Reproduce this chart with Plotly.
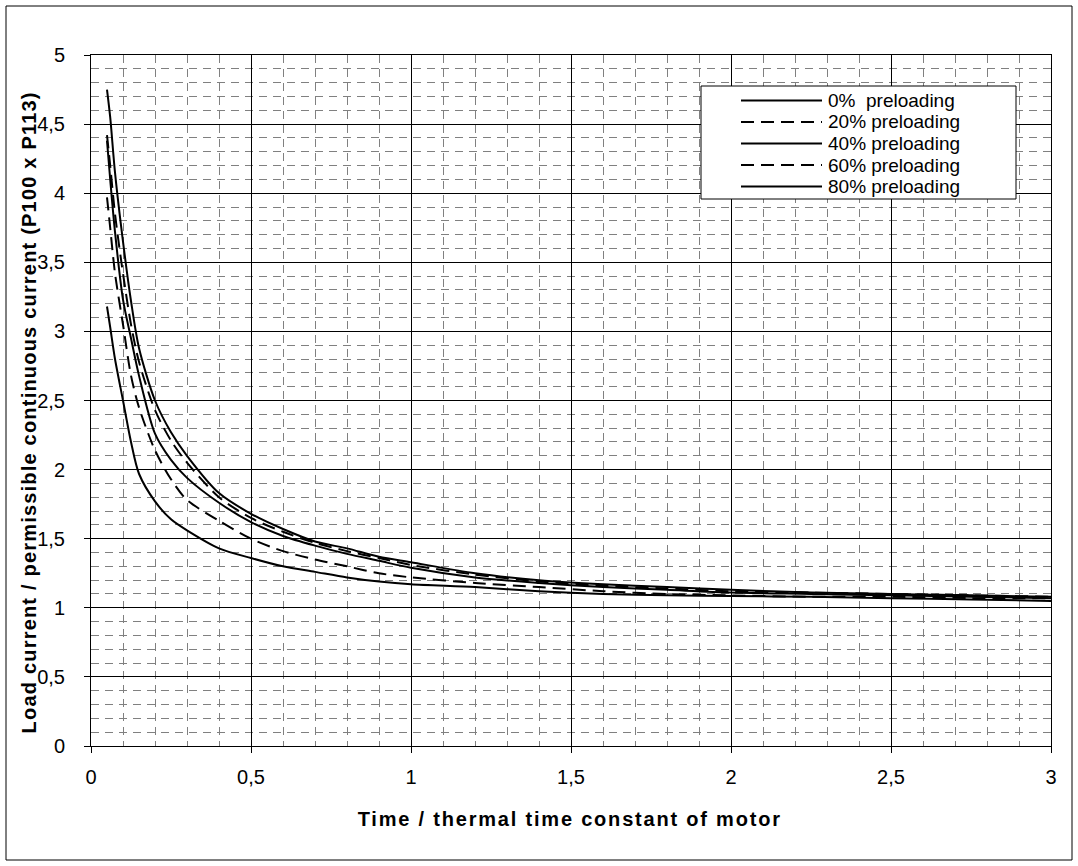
import plotly.graph_objects as go

# ---------------- data ----------------
time_ratio = [0.05, 0.06, 0.075, 0.1, 0.125, 0.15, 0.2, 0.25, 0.3, 0.4, 0.5, 0.6, 0.7,
              0.8, 0.9, 1.0, 1.2, 1.4, 1.6, 1.8, 2.0, 2.25, 2.5, 2.75, 3.0]

pre_0 = [4.75, 4.55, 4.15, 3.65, 3.22, 2.88, 2.50, 2.27, 2.10, 1.83, 1.68, 1.57, 1.48,
         1.43, 1.37, 1.33, 1.25, 1.20, 1.17, 1.15, 1.13, 1.11, 1.10, 1.09, 1.08]
pre_20 = [4.42, 4.20, 3.85, 3.42, 3.05, 2.78, 2.43, 2.21, 2.05, 1.80, 1.65, 1.55, 1.47,
          1.41, 1.36, 1.31, 1.24, 1.19, 1.16, 1.14, 1.12, 1.11, 1.10, 1.09, 1.08]
pre_40 = [4.38, 4.10, 3.72, 3.23, 2.95, 2.68, 2.26, 2.07, 1.94, 1.76, 1.62, 1.52, 1.45,
          1.39, 1.34, 1.29, 1.22, 1.18, 1.15, 1.13, 1.11, 1.10, 1.09, 1.08, 1.07]
pre_60 = [3.97, 3.75, 3.42, 3.05, 2.68, 2.45, 2.14, 1.93, 1.78, 1.63, 1.50, 1.41, 1.35,
          1.30, 1.25, 1.22, 1.18, 1.15, 1.12, 1.10, 1.09, 1.08, 1.08, 1.07, 1.07]
pre_80 = [3.18, 3.03, 2.80, 2.50, 2.20, 1.97, 1.77, 1.64, 1.56, 1.43, 1.36, 1.30, 1.26,
          1.22, 1.19, 1.17, 1.15, 1.12, 1.10, 1.09, 1.085, 1.08, 1.07, 1.06, 1.05]

series_names = ["0%\u00a0 preloading", "20% preloading", "40% preloading",
                "60% preloading", "80% preloading"]
series_values = [pre_0, pre_20, pre_40, pre_60, pre_80]
series_dash = ["solid", "13px,7px", "solid", "13px,7px", "solid"]

x_title = "Time / thermal time constant of motor"
y_title = "Load current / permissible continuous current (P100 x P113)"

FONT = "Arial, 'Liberation Sans', sans-serif"

# ---------------- figure ----------------
fig = go.Figure()
for name, vals, dash in zip(series_names, series_values, series_dash):
    fig.add_trace(go.Scatter(
        x=time_ratio, y=vals, mode="lines", name=name,
        line=dict(color="black", width=2, dash=dash, shape="spline", smoothing=0.8),
        showlegend=False,
    ))

W, H = 1078, 866
L, R, T, B = 91, 27, 55, 120

axis_common = dict(
    showline=True, linecolor="black", linewidth=1, mirror=True,
    ticks="outside", ticklen=6, tickcolor="black", tickwidth=1,
    showgrid=True, gridcolor="black", gridwidth=1,
    zeroline=False,
    tickfont=dict(family=FONT, size=20, color="black"),
    minor=dict(dtick=0.1, showgrid=True, gridcolor="#808080", gridwidth=1,
               griddash="8px,6px", ticks=""),
)

fig.update_xaxes(range=[0, 3], tick0=0, dtick=0.5, ticklabelstandoff=7, **axis_common)
fig.update_yaxes(range=[0, 5], tick0=0, dtick=0.5, ticklabelstandoff=15, **axis_common)


def px_x(p):
    return (p - L) / (W - L - R)


def px_y(p):
    return ((H - B) - p) / (H - T - B)


annotations = [
    dict(text="<b>" + x_title + "</b>", xref="paper", yref="paper",
         x=px_x(570), y=px_y(819), xanchor="center", yanchor="middle",
         showarrow=False, font=dict(family=FONT, size=20, color="black")),
    dict(text="<b>" + y_title + "</b>", xref="paper", yref="paper",
         x=px_x(29), y=px_y(413), xanchor="center", yanchor="middle", textangle=-90,
         showarrow=False, font=dict(family=FONT, size=20, color="black")),
]

shapes = [
    # outer chart border
    dict(type="rect", xref="paper", yref="paper",
         x0=px_x(6), x1=px_x(1072), y0=px_y(860), y1=px_y(6),
         line=dict(color="black", width=1), fillcolor="rgba(0,0,0,0)", layer="below"),
    # legend box
    dict(type="rect", xref="paper", yref="paper",
         x0=px_x(701), x1=px_x(1016), y0=px_y(199), y1=px_y(86),
         line=dict(color="black", width=1), fillcolor="white", layer="above"),
]

row_y = [100.5, 122, 143.5, 165, 186.5]
for name, dash, ry in zip(series_names, series_dash, row_y):
    shapes.append(dict(type="line", xref="paper", yref="paper",
                       x0=px_x(741), x1=px_x(822), y0=px_y(ry), y1=px_y(ry),
                       line=dict(color="black", width=2, dash=dash), layer="above"))
    annotations.append(dict(text=name, xref="paper", yref="paper",
                            x=px_x(826), y=px_y(ry), xanchor="left", yanchor="middle",
                            showarrow=False,
                            font=dict(family=FONT, size=19, color="black")))

fig.update_layout(
    width=W, height=H,
    margin=dict(l=L, r=R, t=T, b=B, pad=0),
    paper_bgcolor="white", plot_bgcolor="white",
    separators=", ",
    font=dict(family=FONT, color="black"),
    annotations=annotations,
    shapes=shapes,
    showlegend=False,
)

post = """
document.body.style.margin = '0';
document.body.style.padding = '0';
var gd = document.getElementById('{plot_id}');
var els = gd.querySelectorAll('.annotation-text');
if (els.length > 1) { els[0].style.letterSpacing = '1.8px'; els[1].style.letterSpacing = '1.2px'; }
"""
fig.write_html("out.html", post_script=post, config={"displayModeBar": False})
